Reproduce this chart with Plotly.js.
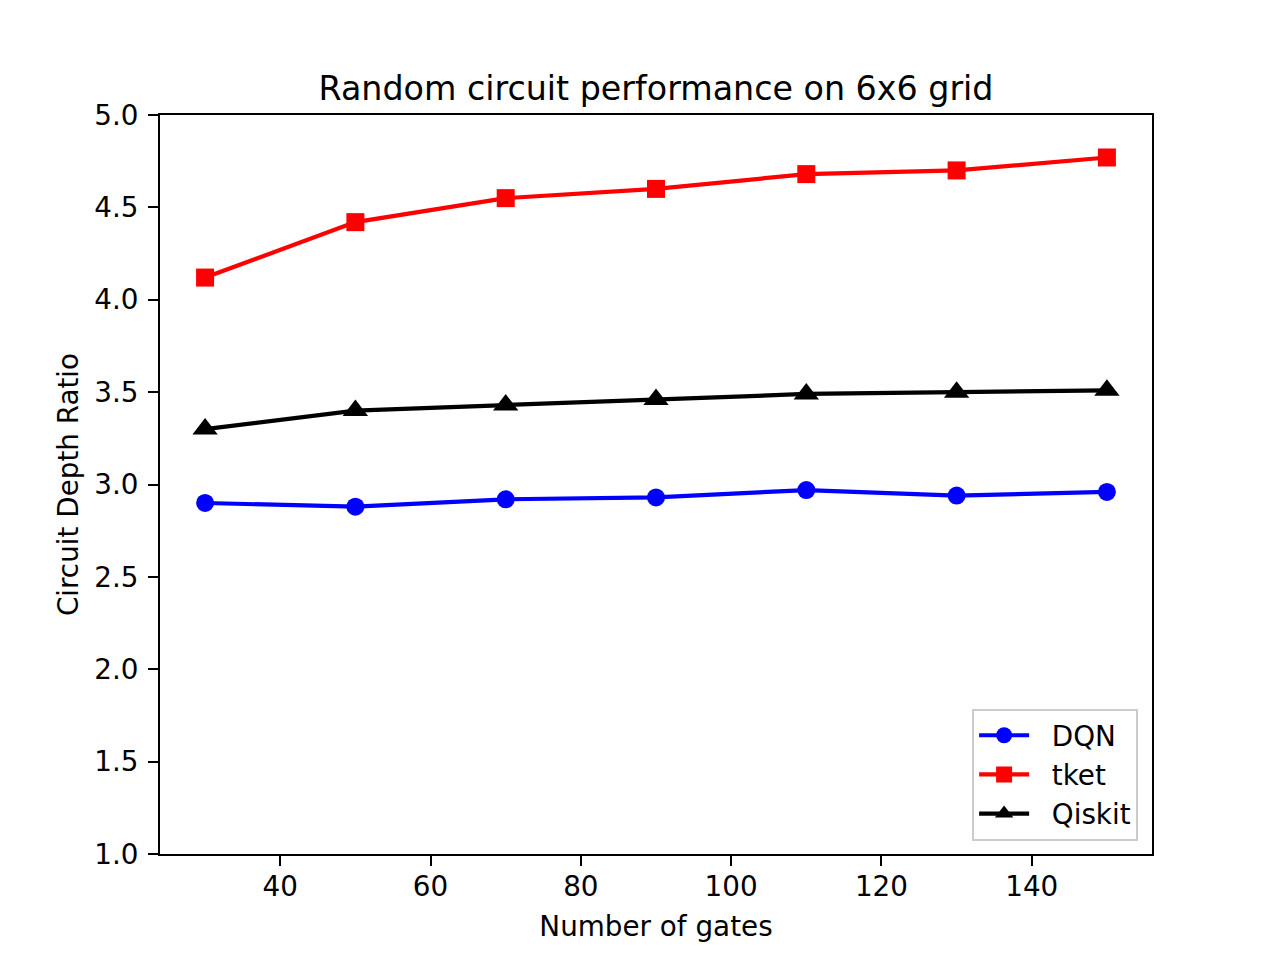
<!DOCTYPE html>
<html>
<head>
<meta charset="utf-8">
<script src="https://cdn.plot.ly/plotly-3.0.1.min.js"></script>
<style>
  html, body { margin: 0; padding: 0; background: #fff; }
  #plot { width: 1280px; height: 960px; }
</style>
</head>
<body>
<div id="plot"></div>
<script>
// number of gates in the random circuits
const gates = [30, 50, 70, 90, 110, 130, 150];

// circuit depth ratio per method
const dqn = [2.90, 2.88, 2.92, 2.93, 2.97, 2.94, 2.96];
const tket = [4.12, 4.42, 4.55, 4.60, 4.68, 4.70, 4.77];
const qiskit = [3.30, 3.40, 3.43, 3.46, 3.49, 3.50, 3.51];

const yTicks = [1.0, 1.5, 2.0, 2.5, 3.0, 3.5, 4.0, 4.5, 5.0];
const xTicks = [40, 60, 80, 100, 120, 140];

const fontFamily = 'DejaVu Sans, sans-serif';
const lw = 4.2;   // 1.5pt at 200 dpi
const pad = '\u00a0\u00a0';  // push legend text off the handle a bit

function series(name, y, color, symbol, size) {
    return {
        type: 'scatter',
        mode: 'lines+markers',
        name: pad + name,
        x: gates,
        y: y,
        line: { color: color, width: lw },
        marker: { color: color, symbol: symbol, size: size, line: { width: 0 } },
        hoverinfo: 'none'
    };
}

const traces = [
    series('DQN', dqn, '#0000ff', 'circle', 18),
    series('tket', tket, '#ff0000', 'square', 18),
    series('Qiskit', qiskit, '#000000', 'triangle-up', 22)
];

const axisCommon = {
    showgrid: false,
    zeroline: false,
    showline: true,
    mirror: true,
    linecolor: '#000',
    linewidth: 2.2,
    ticks: 'outside',
    ticklen: 9.7,
    tickwidth: 2,
    tickcolor: '#000',
    tickfont: { family: fontFamily, size: 27.8, color: '#000' }
};

const layout = {
    width: 1280,
    height: 960,
    margin: { l: 160, r: 128, t: 115, b: 106 },
    paper_bgcolor: '#fff',
    plot_bgcolor: '#fff',
    font: { family: fontFamily, color: '#000' },
    title: {
        text: 'Random circuit performance on 6x6 grid',
        font: { family: fontFamily, size: 33.3, color: '#000' },
        x: 0.5 * (160 + 1152) / 1280,
        xanchor: 'center',
        yref: 'container',
        y: 1 - 88 / 960,
        yanchor: 'middle'
    },
    xaxis: {
        ...axisCommon,
        range: [24, 156],
        tickvals: xTicks,
        ticklabelstandoff: -3,
        title: { text: 'Number of gates', font: { family: fontFamily, size: 27.8, color: '#000' }, standoff: 14 }
    },
    yaxis: {
        ...axisCommon,
        range: [1, 5],
        tickvals: yTicks,
        tickformat: '.1f',
        ticklabelstandoff: 4,
        title: { text: 'Circuit Depth Ratio', font: { family: fontFamily, size: 27.8, color: '#000' }, standoff: 8 }
    },
    showlegend: true,
    legend: {
        x: 0.986,
        xanchor: 'right',
        y: 0.018,
        yanchor: 'bottom',
        bgcolor: 'rgba(255,255,255,0.8)',
        bordercolor: '#cccccc',
        borderwidth: 2,
        font: { family: fontFamily, size: 27.8, color: '#000' },
        tracegroupgap: 0,
        itemwidth: 50
    }
};

Plotly.newPlot('plot', traces, layout, { displayModeBar: false, staticPlot: true });
</script>
</body>
</html>
